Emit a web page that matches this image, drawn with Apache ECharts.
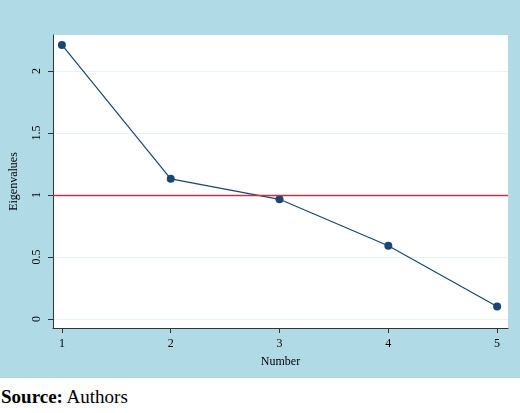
<!DOCTYPE html>
<html><head><meta charset="utf-8">
<script src="https://cdn.jsdelivr.net/npm/echarts@6/dist/echarts.min.js"></script>
<style>body{margin:0;background:#fff}#c{width:520px;height:378px;background:#b0dae6}
#s{font-family:"Liberation Serif",serif;font-size:19px;margin:8px 0 0 1px}</style>
</head><body><div id="c"></div><div id="s"><b>Source:</b> Authors</div>
<script>
const numbers=[1,2,3,4,5];
const eigenvalues=[2.21,1.13,0.965,0.59,0.10];
const yTicks=[0,0.5,1,1.5,2];
const xTicks=[1,2,3,4,5];
const ch=echarts.init(document.getElementById('c'));
const font='Liberation Serif';
ch.setOption({
 animation:false,
 grid:{left:51,right:12,top:35,bottom:50,show:true,backgroundColor:'#fff',borderWidth:0},
 xAxis:{type:'value',min:0.918,max:5.1,name:'Number',nameLocation:'middle',nameGap:28,
  nameTextStyle:{fontFamily:font,fontSize:12,color:'#000'},
  axisLine:{show:true,onZero:false,lineStyle:{color:'#333'}},
  axisTick:{show:true,customValues:xTicks,length:5,lineStyle:{color:'#333'}},
  axisLabel:{customValues:xTicks,fontFamily:font,fontSize:12,color:'#000',margin:10},
  splitLine:{show:false}},
 yAxis:{type:'value',min:-0.073,max:2.29,name:'Eigenvalues',nameLocation:'middle',nameGap:33,
  nameTextStyle:{fontFamily:font,fontSize:12,color:'#000'},
  axisLine:{show:true,lineStyle:{color:'#333'}},
  axisTick:{show:true,customValues:yTicks,length:5,lineStyle:{color:'#333'}},
  axisLabel:{customValues:yTicks,rotate:90,fontFamily:font,fontSize:12,color:'#000',margin:10},
  splitLine:{show:true,customValues:yTicks,lineStyle:{color:'#eaf2f3'}}},
 series:[{type:'line',data:numbers.map((n,i)=>[n,eigenvalues[i]]),symbol:'circle',symbolSize:8,
  itemStyle:{color:'#1a476f'},lineStyle:{color:'#1a476f',width:1.2},
  markLine:{silent:true,symbol:'none',label:{show:false},lineStyle:{color:'#c4314b',type:'solid',width:1.3},data:[{yAxis:1}]}}]
});
</script></body></html>
